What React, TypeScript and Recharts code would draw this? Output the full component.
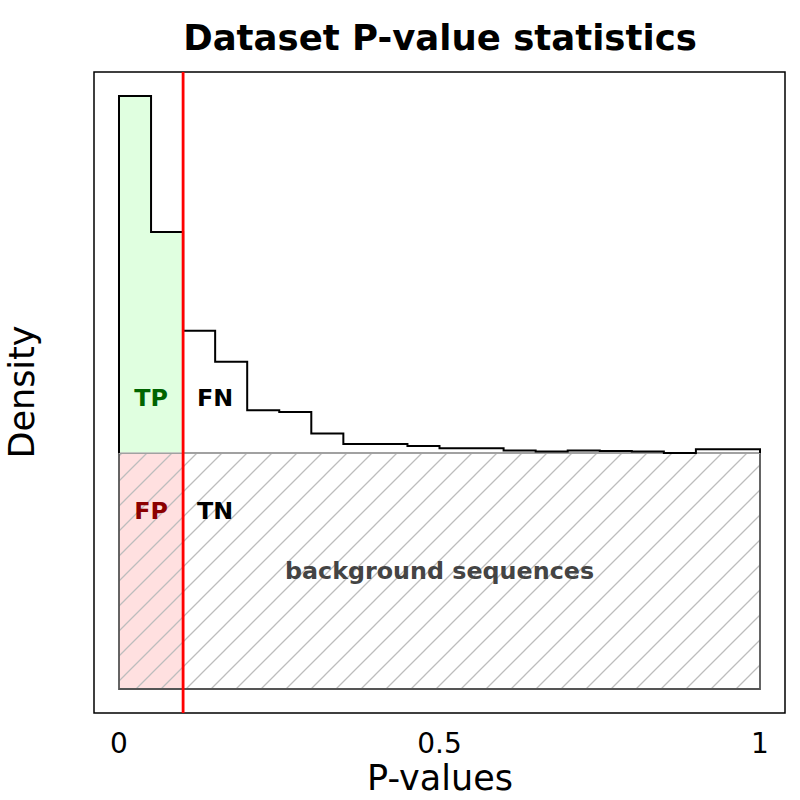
import {
  ComposedChart,
  Line,
  Area,
  XAxis,
  YAxis,
  ReferenceArea,
  ReferenceLine,
  ReferenceDot,
  Label,
} from 'recharts'

// histogram bins (left edges) and their densities, background density = 1
const BIN_LEFT = [0, 0.05, 0.1, 0.15, 0.2, 0.25, 0.3, 0.35, 0.4, 0.45, 0.5, 0.55, 0.6, 0.65, 0.7, 0.75, 0.8, 0.85, 0.9, 0.95]
const BIN_RIGHT_END = 1
const DENSITY = [
  2.513, 1.936, 1.518, 1.387, 1.181, 1.174, 1.083, 1.038, 1.038, 1.03,
  1.02, 1.02, 1.011, 1.006, 1.011, 1.008, 1.006, 1.0, 1.016, 1.016,
]
const BACKGROUND = 1
const THRESHOLD = 0.1
const X_TICKS = [0, 0.5, 1]
const X_DOMAIN = [-0.039, 1.039]
const Y_DOMAIN = [-0.1017, 2.6144]

// region annotations
const REGION_TEXT = ['TP', 'FN', 'FP', 'TN', 'background sequences']
const REGION_X = [0.05, 0.15, 0.05, 0.15, 0.5]
const REGION_Y = [1.237, 1.237, 0.757, 0.757, 0.5]

const REGION_COLOR: Record<string, string> = {
  TP: '#006400',
  FN: '#000000',
  FP: '#8b0000',
  TN: '#000000',
  'background sequences': '#444444',
}

const FONT = '"DejaVu Sans", sans-serif'

const outline = [
  { x: BIN_LEFT[0], y: BACKGROUND },
  ...BIN_LEFT.map((x, i) => ({ x, y: DENSITY[i] })),
  { x: BIN_RIGHT_END, y: DENSITY[DENSITY.length - 1] },
  { x: BIN_RIGHT_END, y: BACKGROUND },
]

const posBins = BIN_LEFT.filter((x) => x < THRESHOLD)
const positives = [
  ...posBins.map((x, i) => ({ x, y: DENSITY[i] })),
  { x: THRESHOLD, y: DENSITY[posBins.length - 1] },
]

export default function App() {
  return (
    <div style={{ position: 'absolute', left: 0, top: 0, width: 800, height: 800, fontFamily: FONT, background: '#fff' }}>
      <ComposedChart
        width={800}
        height={800}
        margin={{ top: 72, right: 15, bottom: 17, left: 94 }}
      >
        <defs>
          <pattern id="hatch" patternUnits="userSpaceOnUse" width={25} height={25}>
            <path d="M0,25 L25,0 M-3,3 L3,-3 M22,28 L28,22" stroke="#bdbdbd" strokeWidth={1.3} />
          </pattern>
        </defs>
        <XAxis
          type="number"
          dataKey="x"
          domain={X_DOMAIN}
          ticks={X_TICKS}
          tickFormatter={(v: number) => String(v)}
          tickLine={false}
          tickMargin={14}
          tick={{ fontSize: 28, fill: '#000' }}
          axisLine={false}
          height={70}
          allowDataOverflow
        />
        <YAxis
          type="number"
          domain={Y_DOMAIN}
          tick={false}
          tickLine={false}
          width={0}
          axisLine={false}
          allowDataOverflow
        />

        <ReferenceArea
          x1={X_DOMAIN[0]}
          x2={X_DOMAIN[1]}
          y1={Y_DOMAIN[0]}
          y2={Y_DOMAIN[1]}
          fill="#fff"
          fillOpacity={1}
          stroke="#000"
          strokeWidth={1.5}
        />
        <ReferenceArea x1={0} x2={THRESHOLD} y1={0} y2={BACKGROUND} fill="#ffe0e0" fillOpacity={1} stroke="none" />
        <ReferenceArea
          x1={0}
          x2={BIN_RIGHT_END}
          y1={0}
          y2={BACKGROUND}
          fill="url(#hatch)"
          fillOpacity={1}
          stroke="#555"
          strokeWidth={1.8}
        />
        <ReferenceLine
          segment={[{ x: 0, y: BACKGROUND }, { x: BIN_RIGHT_END, y: BACKGROUND }]}
          stroke="#bbbbbb"
          strokeWidth={1.5}
        />

        <Area
          data={positives}
          dataKey="y"
          type="stepAfter"
          baseValue={BACKGROUND}
          fill="#e0ffe0"
          fillOpacity={1}
          stroke="none"
          isAnimationActive={false}
        />
        <Line
          data={outline}
          dataKey="y"
          type="stepAfter"
          stroke="#000"
          strokeWidth={2}
          dot={false}
          isAnimationActive={false}
        />

        {REGION_TEXT.map((t, i) => (
          <ReferenceDot key={t} x={REGION_X[i]} y={REGION_Y[i]} r={0} stroke="none" fill="none">
            <Label
              value={t}
              position="center"
              fill={REGION_COLOR[t]}
              fontSize={23.8}
              fontWeight="bold"
              fontFamily={FONT}
            />
          </ReferenceDot>
        ))}

        <ReferenceLine x={THRESHOLD} stroke="#ff0000" strokeWidth={2.8} />
      </ComposedChart>

      <svg width={800} height={800} style={{ position: 'absolute', left: 0, top: 0, pointerEvents: 'none' }}>
        <text x={440} y={50} textAnchor="middle" fontSize={35.5} fontWeight="bold" fontFamily={FONT} fill="#000">
          Dataset P-value statistics
        </text>
        <text x={440} y={790} textAnchor="middle" fontSize={35} fontFamily={FONT} fill="#000">
          P-values
        </text>
        <text
          x={34}
          y={392}
          textAnchor="middle"
          fontSize={35}
          fontFamily={FONT}
          fill="#000"
          transform="rotate(-90 34 392)"
        >
          Density
        </text>
      </svg>
    </div>
  )
}
